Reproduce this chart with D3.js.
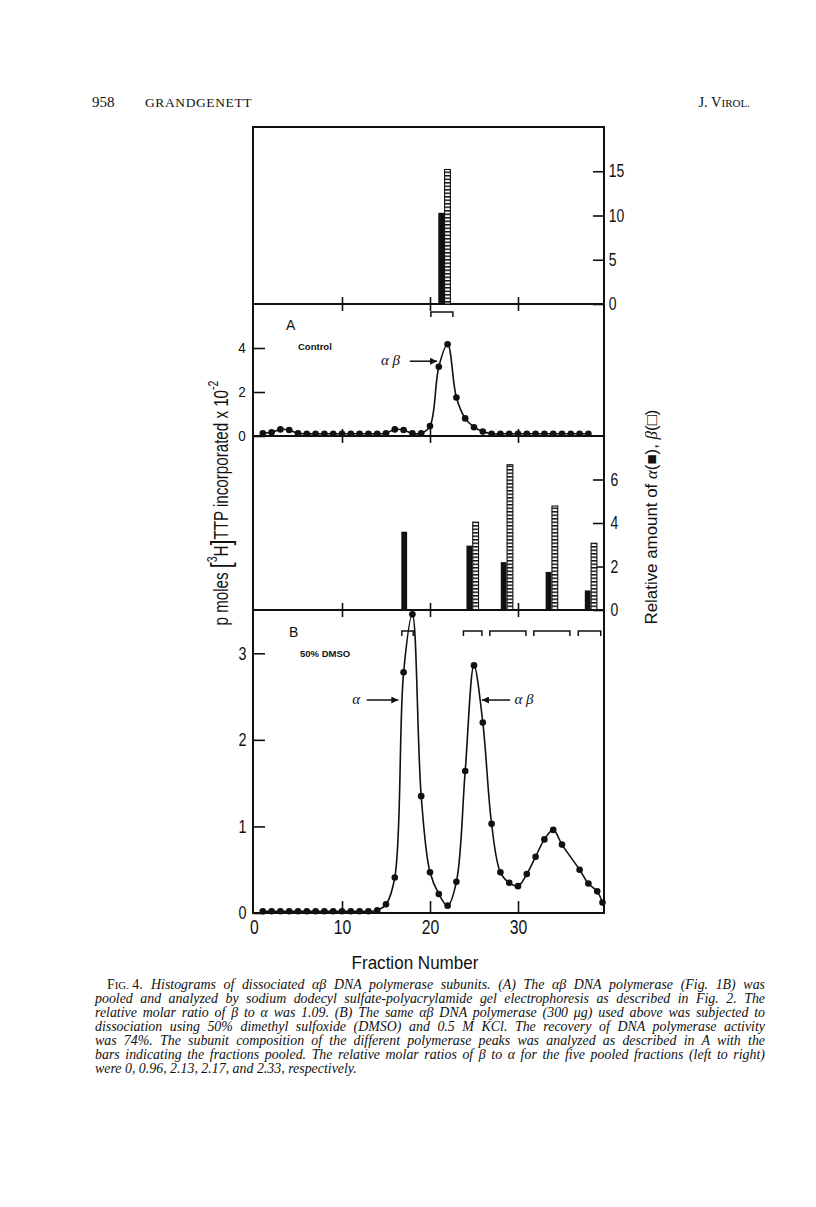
<!DOCTYPE html>
<html>
<head>
<meta charset="utf-8">
<script src="https://d3js.org/d3.v7.min.js"></script>
<style>
  body { margin: 0; background: #fff; }
  .tk text { font-family: "Liberation Sans", Arial, sans-serif; fill: #111; }
  .tk line { stroke: #111; stroke-width: 1.6; }
</style>
</head>
<body>
<div id="graph"></div>
<script>

// ---- data ----
// panel A (control): fraction number and activity (pmol x 10^-2)
var fractionsA = [1,2,3,4,5,6,7,8,9,10,11,12,13,14,15,16,17,18,19,20,21,22,23,24,25,26,27,28,29,30,31,32,33,34,35,36,37,38];
var activityA  = [0.12,0.17,0.3,0.27,0.12,0.1,0.1,0.1,0.1,0.1,0.1,0.1,0.1,0.1,0.12,0.3,0.27,0.12,0.12,0.45,
                  3.15,4.17,1.75,0.8,0.4,0.2,0.1,0.1,0.1,0.1,0.1,0.1,0.1,0.1,0.1,0.1,0.1,0.1];

// panel B (50% DMSO)
var fractionsB = [1,2,3,4,5,6,7,8,9,10,11,12,13,14,15,16,17,18,19,20,21,22,23,24,25,26,27,28,29,30,31,32,33,34,35,37,38,39,39.6];
var activityB  = [0.02,0.02,0.02,0.02,0.02,0.02,0.02,0.02,0.02,0.02,0.02,0.02,0.02,0.03,0.1,0.41,2.78,3.45,1.35,0.47,
                  0.22,0.085,0.36,1.64,2.86,2.2,1.03,0.47,0.35,0.31,0.45,0.65,0.85,0.96,0.79,0.5,0.34,0.25,0.12];

// subunit histograms: position of each pool (fraction), relative amount of alpha and beta
var poolPosA = [21.6];
var alphaA   = [10.3];
var betaA    = [15.2];

var poolPosB = [17.4, 24.8, 28.7, 33.8, 38.25];
var alphaB   = [3.6, 2.96, 2.2, 1.75, 0.9];
var betaB    = [0, 4.04, 6.68, 4.78, 3.07];

// pooled fraction ranges (brackets)
var poolRangesA = [[20.1, 22.6]];
var poolRangesB = [[16.8, 18.1], [23.8, 25.9], [26.8, 30.9], [31.8, 35.9], [36.85, 39.4]];

// tick labels
var fractionTicks = [0, 10, 20, 30];
var topBarTicks   = [0, 5, 10, 15];
var actATicks     = [0, 2, 4];
var midBarTicks   = [0, 2, 4, 6];
var actBTicks     = [0, 1, 2, 3];

var captionLines = [
  "Histograms of dissociated \u03b1\u03b2 DNA polymerase subunits. (A) The \u03b1\u03b2 DNA polymerase (Fig. 1B) was",
  "pooled and analyzed by sodium dodecyl sulfate-polyacrylamide gel electrophoresis as described in Fig. 2. The",
  "relative molar ratio of \u03b2 to \u03b1 was 1.09. (B) The same \u03b1\u03b2 DNA polymerase (300 \u03bcg) used above was subjected to",
  "dissociation using 50% dimethyl sulfoxide (DMSO) and 0.5 M KCl. The recovery of DNA polymerase activity",
  "was 74%. The subunit composition of the different polymerase peaks was analyzed as described in A with the",
  "bars indicating the fractions pooled. The relative molar ratios of \u03b2 to \u03b1 for the five pooled fractions (left to right)",
  "were 0, 0.96, 2.13, 2.17, and 2.33, respectively."
];

// ---- layout ----
var W = 816, H = 1207;
var fLeft = 253, fRight = 604, fTop = 127, fBottom = 913;
var div1 = 304, div2 = 436, div3 = 610;
var sans = '"Liberation Sans", Arial, sans-serif';
var serif = '"Liberation Serif", "DejaVu Serif", serif';

var svg = d3.select("#graph").append("svg")
  .attr("width", W).attr("height", H);

var defs = svg.append("defs");
var pat = defs.append("pattern").attr("id", "hatch")
  .attr("patternUnits", "userSpaceOnUse").attr("width", 8).attr("height", 3.5);
pat.append("rect").attr("width", 8).attr("height", 3.5).attr("fill", "#fff");
pat.append("rect").attr("width", 8).attr("height", 1.5).attr("fill", "#111");

defs.append("marker").attr("id", "arrow")
  .attr("viewBox", "0 0 10 10").attr("refX", 10).attr("refY", 5)
  .attr("markerWidth", 8).attr("markerHeight", 7).attr("markerUnits", "userSpaceOnUse")
  .attr("orient", "auto")
  .append("path").attr("d", "M0,0 L10,5 L0,10 Z").attr("fill", "#111");

// scales
var x = d3.scaleLinear().domain([0, 40]).range([254, 606]);
var yTop = d3.scaleLinear().domain([0, 20]).range([div1, fTop]);
var yA   = d3.scaleLinear().domain([0, 6]).range([div2, div1]);
var yMid = d3.scaleLinear().domain([0, 8]).range([div3, div2]);
var yB   = d3.scaleLinear().domain([0, 3.5]).range([fBottom, div3]);

// frame and dividers
svg.append("rect").attr("x", fLeft).attr("y", fTop)
  .attr("width", fRight - fLeft).attr("height", fBottom - fTop)
  .attr("fill", "none").attr("stroke", "#111").attr("stroke-width", 2);
[div1, div2, div3].forEach(function(d) {
  svg.append("line").attr("x1", fLeft).attr("x2", fRight).attr("y1", d).attr("y2", d)
    .attr("stroke", "#111").attr("stroke-width", 2);
});

function clean(g) { g.select(".domain").remove(); g.attr("class", "tk"); }
// condensed look: squeeze tick labels horizontally
function squeeze(sel, size, k) {
  sel.selectAll("text").attr("font-size", size)
    .attr("transform", "scale(" + k + ",1)");
}

// crossing ticks on dividers
[div1, div2, div3].forEach(function(d) {
  svg.append("g").attr("transform", "translate(0," + d + ")")
    .call(d3.axisBottom(x).tickValues([10, 20, 30]).tickSize(7).tickFormat(""))
    .call(clean);
  svg.append("g").attr("transform", "translate(0," + d + ")")
    .call(d3.axisTop(x).tickValues([10, 20, 30]).tickSize(7).tickFormat(""))
    .call(clean);
});

var fmt = d3.format("d");

// bottom axis
var gx = svg.append("g").attr("transform", "translate(0," + fBottom + ")")
  .call(d3.axisBottom(x).tickValues(fractionTicks).tickFormat(fmt)
    .tickSizeInner(-12).tickSizeOuter(0).tickPadding(6))
  .call(clean);
gx.selectAll(".tick line").filter(function(d) { return d === 0; }).remove();
squeeze(gx, 21, 0.75);

// right axes (subunit amounts)
var gr1 = svg.append("g").attr("transform", "translate(" + fRight + ",0)")
  .call(d3.axisRight(yTop).tickValues(topBarTicks).tickFormat(fmt)
    .tickSizeInner(-11).tickSizeOuter(0).tickPadding(6))
  .call(clean);
squeeze(gr1, 17.5, 0.8);
var gr2 = svg.append("g").attr("transform", "translate(" + fRight + ",0)")
  .call(d3.axisRight(yMid).tickValues(midBarTicks).tickFormat(fmt)
    .tickSizeInner(-11).tickSizeOuter(0).tickPadding(8))
  .call(clean);
squeeze(gr2, 17.5, 0.8);

// left axes (activity)
var gl1 = svg.append("g").attr("transform", "translate(" + fLeft + ",0)")
  .call(d3.axisLeft(yA).tickValues(actATicks).tickFormat(fmt)
    .tickSizeInner(-12).tickSizeOuter(0).tickPadding(8))
  .call(clean);
squeeze(gl1, 15, 0.9);
var gl2 = svg.append("g").attr("transform", "translate(" + fLeft + ",0)")
  .call(d3.axisLeft(yB).tickValues(actBTicks).tickFormat(fmt)
    .tickSizeInner(-12).tickSizeOuter(0).tickPadding(8))
  .call(clean);
squeeze(gl2, 18, 0.8);

// bars
var barW = 5.8;
function drawBars(pos, alpha, beta, y) {
  var g = svg.append("g");
  g.selectAll("rect.a").data(pos).enter().append("rect")
    .attr("x", function(d) { return x(d) - barW; })
    .attr("y", function(d, i) { return y(alpha[i]); })
    .attr("width", barW)
    .attr("height", function(d, i) { return y(0) - y(alpha[i]); })
    .attr("fill", "#111");
  var withBeta = pos.map(function(d, i) { return {p: d, v: beta[i]}; })
    .filter(function(d) { return d.v > 0; });
  g.selectAll("rect.b").data(withBeta).enter().append("rect")
    .attr("x", function(d) { return x(d.p) + 0.5; })
    .attr("y", function(d) { return y(d.v); })
    .attr("width", barW)
    .attr("height", function(d) { return y(0) - y(d.v); })
    .attr("fill", "url(#hatch)").attr("stroke", "#111").attr("stroke-width", 1.1);
}
drawBars(poolPosA, alphaA, betaA, yTop);
drawBars(poolPosB, alphaB, betaB, yMid);

// pooled brackets
function drawBrackets(ranges, yb) {
  svg.append("g").selectAll("path").data(ranges).enter().append("path")
    .attr("d", function(d) {
      return "M" + x(d[0]) + "," + (yb + 5) + "V" + yb + "H" + x(d[1]) + "V" + (yb + 5);
    })
    .attr("fill", "none").attr("stroke", "#111").attr("stroke-width", 1.5);
}
drawBrackets(poolRangesA, 312);
drawBrackets(poolRangesB, 631);

// activity curves
function drawCurve(fr, vals, y) {
  var pts = fr.map(function(f, i) { return [f, vals[i]]; });
  var line = d3.line()
    .x(function(d) { return x(d[0]); })
    .y(function(d) { return y(d[1]); })
    .curve(d3.curveCatmullRom.alpha(0.5));
  svg.append("path").datum(pts).attr("d", line)
    .attr("fill", "none").attr("stroke", "#111").attr("stroke-width", 1.6);
  svg.append("g").selectAll("circle").data(pts).enter().append("circle")
    .attr("cx", function(d) { return x(d[0]); })
    .attr("cy", function(d) { return y(d[1]); })
    .attr("r", 3.3).attr("fill", "#111");
}
drawCurve(fractionsA, activityA, yA);
drawCurve(fractionsB, activityB, yB);

// arrows + greek labels
function arrow(x1, x2, yv, yS) {
  svg.append("line").attr("x1", x(x1)).attr("x2", x(x2))
    .attr("y1", yS(yv)).attr("y2", yS(yv))
    .attr("stroke", "#111").attr("stroke-width", 1.5).attr("marker-end", "url(#arrow)");
}
function greek(t, xv, yv, yS, anchor) {
  svg.append("text").attr("x", x(xv)).attr("y", yS(yv) + 4)
    .attr("text-anchor", anchor).attr("font-family", serif).attr("font-style", "italic")
    .attr("font-size", 15).attr("fill", "#111").text(t);
}
arrow(17.7, 20.8, 3.4, yA);   greek("\u03b1 \u03b2", 16.6, 3.4, yA, "end");
arrow(12.8, 16.4, 2.46, yB);  greek("\u03b1", 11.6, 2.46, yB, "middle");
arrow(29.1, 25.9, 2.46, yB);  greek("\u03b1 \u03b2", 29.6, 2.46, yB, "start");

// panel letters and conditions
function label(t, xp, yp, size, weight, fam) {
  return svg.append("text").attr("x", xp).attr("y", yp).attr("font-family", fam)
    .attr("font-size", size).attr("font-weight", weight).attr("fill", "#111").text(t);
}
label("A", 286, 330, 14, "normal", sans);
label("Control", 298, 350, 9.5, "bold", sans);
label("B", 289, 637, 14, "normal", sans);
label("50% DMSO", 300, 657, 9.5, "bold", sans);

// fit a text to a target length by squeezing it along its own direction
function fit(t, base, target) {
  var len = t.node().getComputedTextLength();
  t.attr("transform", base + " scale(" + (target / len) + ",1)");
}

// x title
var xt = svg.append("text").attr("text-anchor", "middle")
  .attr("font-family", sans).attr("font-size", 18).attr("fill", "#111").text("Fraction Number");
fit(xt, "translate(415,969)", 127);

// left y title
var lt = svg.append("text").attr("text-anchor", "middle")
  .attr("font-family", sans).attr("font-size", 20).attr("fill", "#111");
lt.append("tspan").text("p moles ");
lt.append("tspan").attr("font-size", 28).attr("dy", 2).text("[");
lt.append("tspan").attr("font-size", 14).attr("dy", -13).text("3");
lt.append("tspan").attr("dy", 11).text("H");
lt.append("tspan").attr("font-size", 28).attr("dy", 2).text("]");
lt.append("tspan").attr("dy", -2).text("TTP incorporated x 10");
lt.append("tspan").attr("font-size", 14).attr("dy", -10).text("-2");
fit(lt, "translate(228,503) rotate(-90)", 245);

// right y title
var rt = svg.append("text").attr("text-anchor", "middle")
  .attr("font-family", sans).attr("font-size", 16.5).attr("fill", "#111");
rt.append("tspan").text("Relative amount of  ");
rt.append("tspan").attr("font-family", serif).attr("font-style", "italic").text("\u03b1");
rt.append("tspan").text("(\u25a0), ");
rt.append("tspan").attr("font-family", serif).attr("font-style", "italic").text("\u03b2");
rt.append("tspan").text("(\u25a1)");
fit(rt, "translate(657,517) rotate(-90)", 215);

// running head
label("958", 92, 107, 15, "normal", serif);
svg.append("text").attr("x", 145).attr("y", 107).attr("font-family", serif)
  .attr("font-size", 13.5).attr("letter-spacing", 0.6).attr("fill", "#111").text("GRANDGENETT");
var jv = svg.append("text").attr("x", 750).attr("y", 107).attr("text-anchor", "end")
  .attr("font-family", serif).attr("font-size", 14.5).attr("fill", "#111");
jv.append("tspan").text("J.  V");
jv.append("tspan").attr("font-size", 11).text("IROL.");

// caption, justified by widening the word gaps
var cap = svg.append("g").attr("font-family", serif).attr("font-size", 13.9).attr("fill", "#111");
var c0 = cap.append("text").attr("x", 107).attr("y", 989);
c0.append("tspan").text("F");
c0.append("tspan").attr("font-size", 10.8).text("IG.");
c0.append("tspan").text(" 4.");
function justify(t, width) {
  var len = t.node().getComputedTextLength();
  var gaps = t.text().split(" ").length - 1;
  if (gaps > 0 && len < width) t.style("word-spacing", ((width - len) / gaps) + "px");
  else if (len > width) t.attr("textLength", width).attr("lengthAdjust", "spacingAndGlyphs");
}
var first = cap.append("text").attr("x", 151).attr("y", 989).attr("font-style", "italic").text(captionLines[0]);
justify(first, 765 - 151);
captionLines.slice(1).forEach(function(t, i) {
  var tx = cap.append("text").attr("x", 95).attr("y", 1003 + i * 14).attr("font-style", "italic").text(t);
  if (i < captionLines.length - 2) justify(tx, 765 - 95);
});

</script>
</body>
</html>
